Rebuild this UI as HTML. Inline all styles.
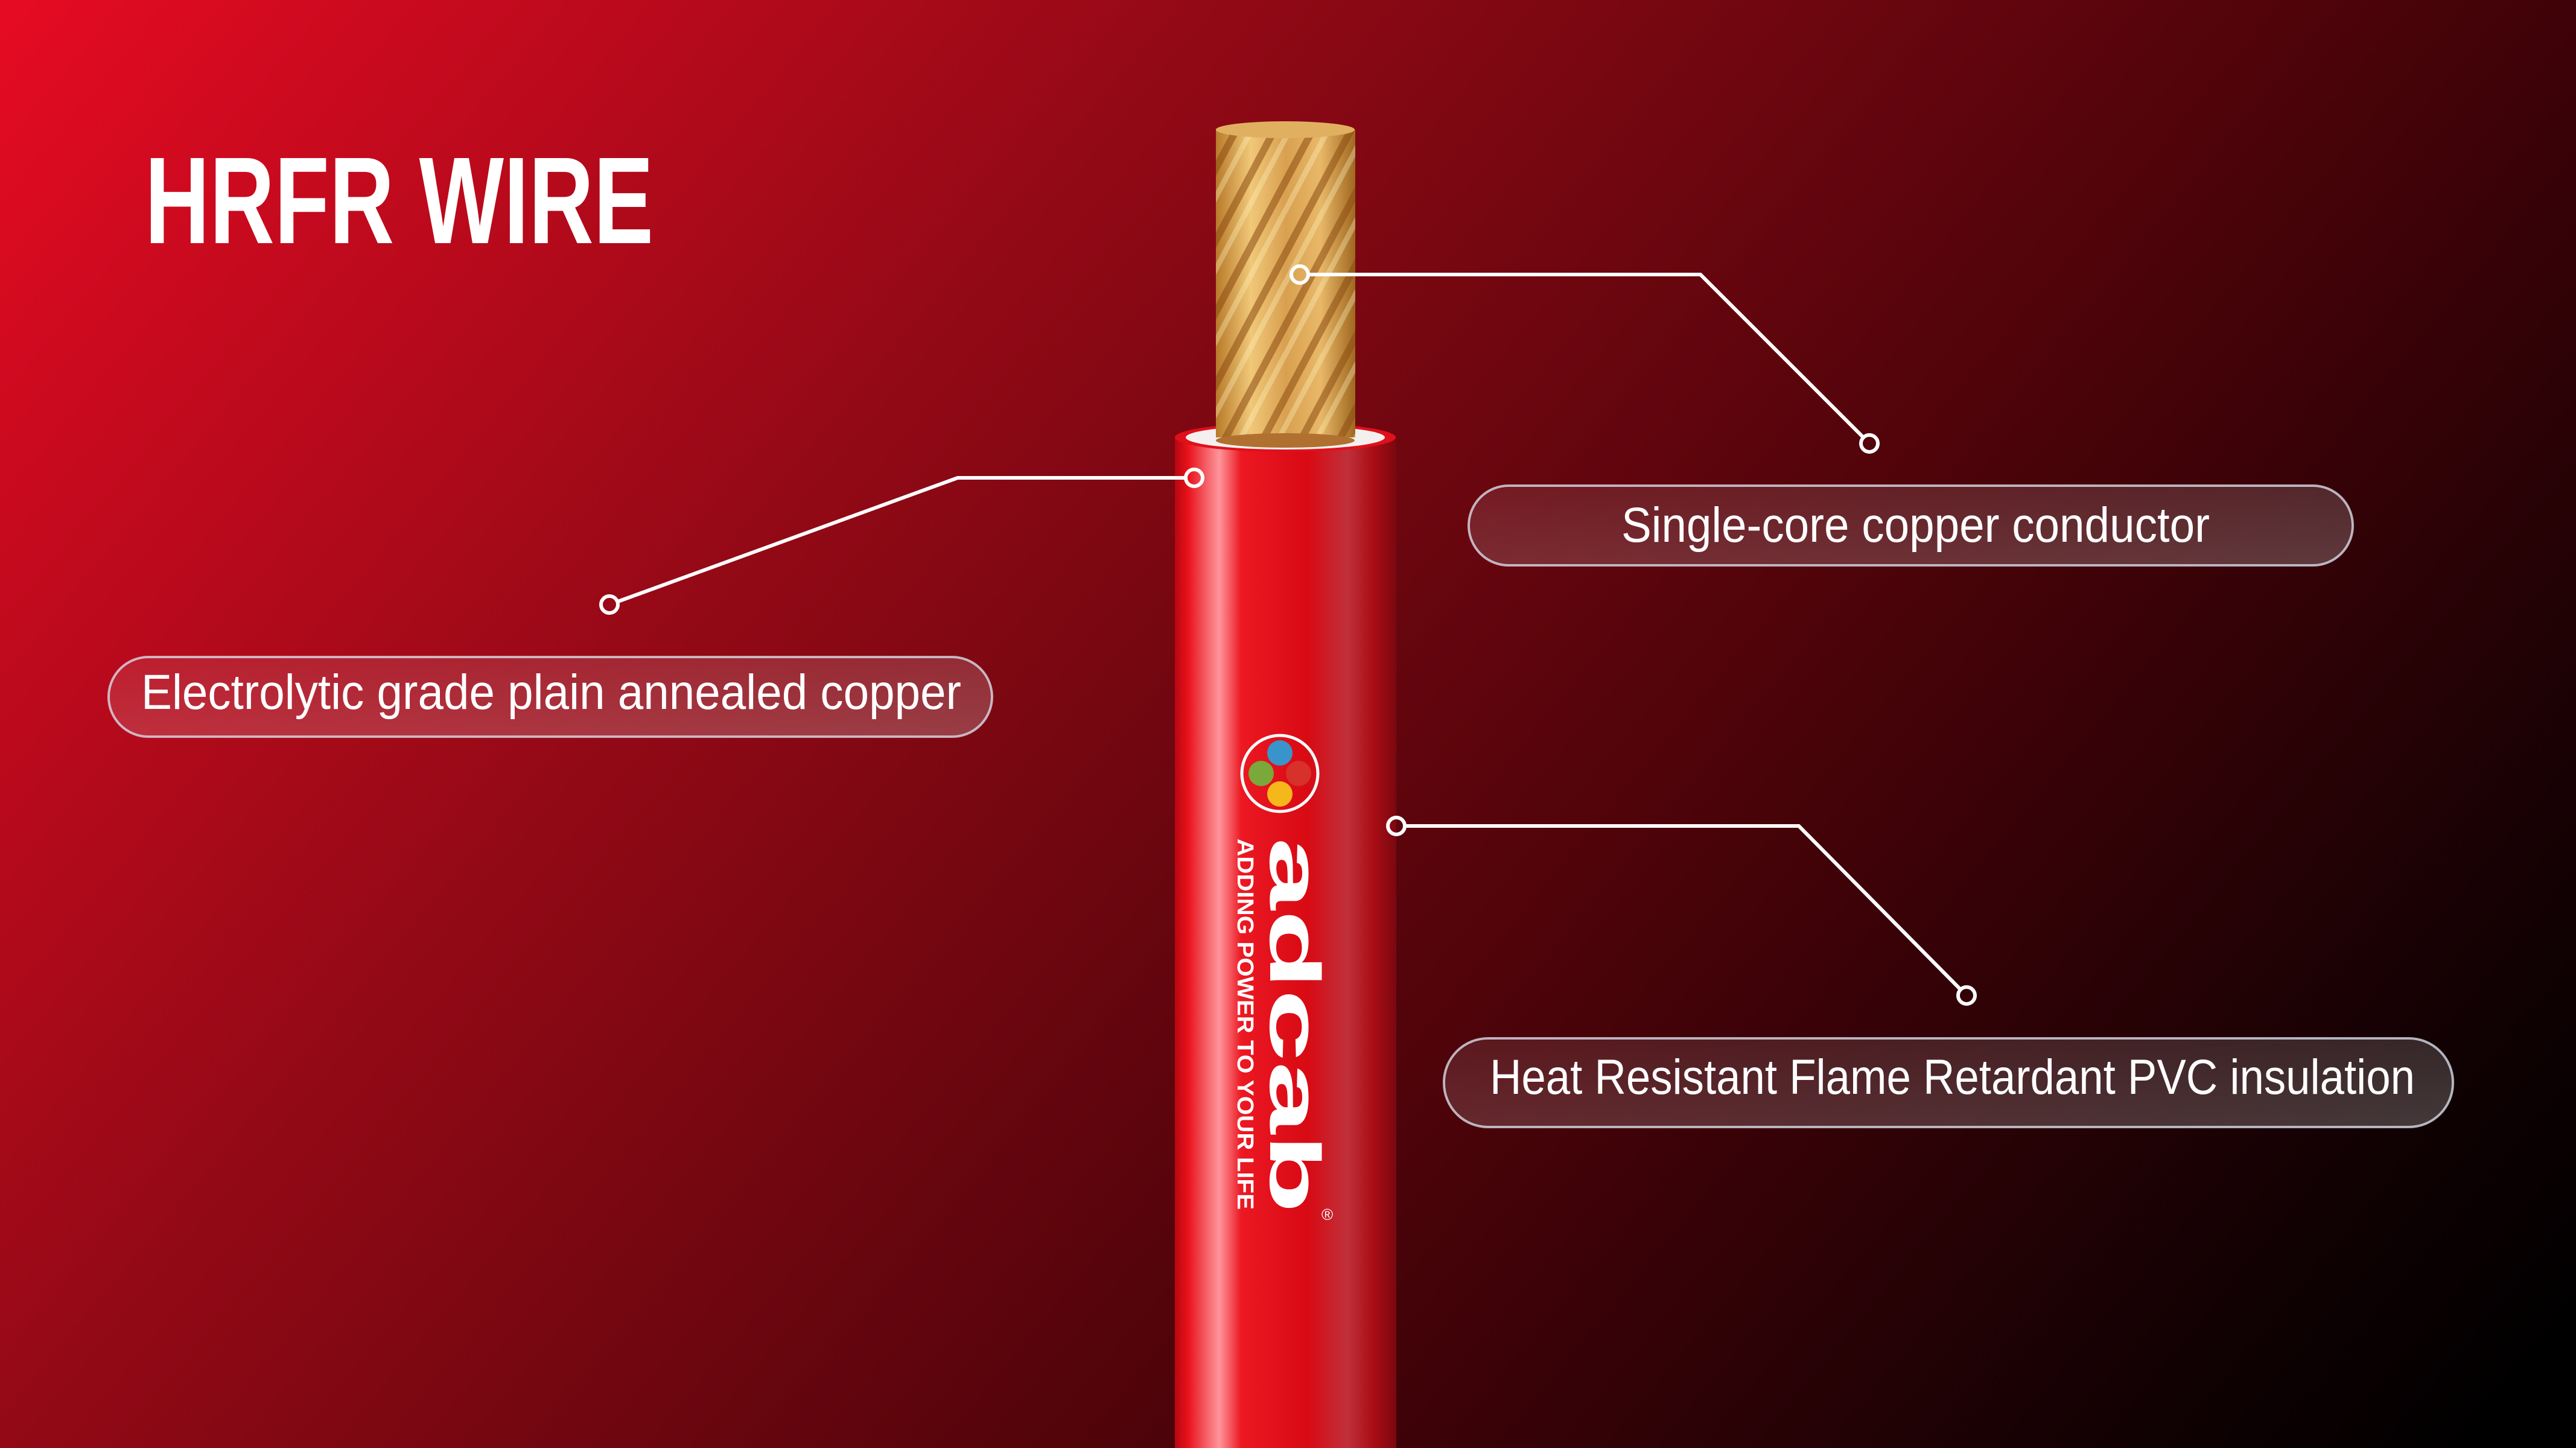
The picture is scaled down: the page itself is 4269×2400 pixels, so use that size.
<!DOCTYPE html>
<html><head><meta charset="utf-8"><style>
html,body{margin:0;padding:0;width:4269px;height:2400px;overflow:hidden;background:#000}
svg{display:block}
text{font-family:"Liberation Sans",sans-serif;fill:#fff}
</style></head><body>
<svg width="4269" height="2400" viewBox="0 0 4269 2400" xmlns="http://www.w3.org/2000/svg">
<defs>
<linearGradient id="bg" x1="0" y1="0" x2="3600" y2="3000" gradientUnits="userSpaceOnUse">
<stop offset="0" stop-color="#e60b23"/>
<stop offset="0.35" stop-color="#8e0915"/>
<stop offset="0.65" stop-color="#4a0309"/>
<stop offset="0.9" stop-color="#120103"/>
<stop offset="1" stop-color="#000"/>
</linearGradient>
<linearGradient id="wire" x1="0" x2="1" y1="0" y2="0">
<stop offset="0" stop-color="#b8060f"/>
<stop offset="0.06" stop-color="#e8121c"/>
<stop offset="0.2" stop-color="#ff959b"/>
<stop offset="0.3" stop-color="#ec1822"/>
<stop offset="0.6" stop-color="#d80a14"/>
<stop offset="0.78" stop-color="#c0303a"/>
<stop offset="0.9" stop-color="#a80c14"/>
<stop offset="1" stop-color="#7a0810"/>
</linearGradient>
<linearGradient id="cu" x1="0" x2="1" y1="0" y2="0">
<stop offset="0" stop-color="#b87a2a"/>
<stop offset="0.25" stop-color="#f0c878"/>
<stop offset="0.5" stop-color="#d8a050"/>
<stop offset="0.75" stop-color="#e8b868"/>
<stop offset="1" stop-color="#a06820"/>
</linearGradient>
<pattern id="strand" width="56" height="56" patternUnits="userSpaceOnUse" patternTransform="rotate(28)">
<rect width="56" height="56" fill="none"/>
<rect x="0" y="0" width="12" height="56" fill="#8a4a10" opacity="0.55"/>
<rect x="24" y="0" width="9" height="56" fill="#fff3c0" opacity="0.35"/>
</pattern>
<linearGradient id="pill" x1="0" x2="1" y1="0" y2="1">
<stop offset="0" stop-color="#ffffff" stop-opacity="0.08"/>
<stop offset="1" stop-color="#ffffff" stop-opacity="0.22"/>
</linearGradient>
</defs>
<rect width="4269" height="2400" fill="url(#bg)"/>

<text x="240" y="403" font-size="205" font-weight="bold" textLength="843" lengthAdjust="spacingAndGlyphs">HRFR WIRE</text>

<rect x="1947" y="722" width="367" height="1700" fill="url(#wire)"/>
<ellipse cx="2130" cy="725" rx="183" ry="24" fill="#e0101a"/>
<ellipse cx="2130" cy="725" rx="165" ry="20" fill="#f4f0f0"/>
<rect x="2015" y="215" width="231" height="510" fill="url(#cu)"/>
<rect x="2015" y="215" width="231" height="510" fill="url(#strand)"/>
<ellipse cx="2130" cy="730" rx="115" ry="12" fill="#b07030"/>
<ellipse cx="2130" cy="215" rx="115" ry="14" fill="#e0b060"/>

<circle cx="2121" cy="1282" r="63" fill="none" stroke="#fff" stroke-width="5"/>
<ellipse cx="2121" cy="1248" rx="21" ry="21" fill="#3a94cc"/>
<ellipse cx="2090" cy="1282" rx="21" ry="21" fill="#7aa83a"/>
<ellipse cx="2152" cy="1282" rx="21" ry="21" fill="#d8302a"/>
<ellipse cx="2121" cy="1316" rx="21" ry="21" fill="#f4b81a"/>
<text transform="translate(2105,1388) rotate(90)" x="0" y="0" font-size="118" font-weight="bold" textLength="623" lengthAdjust="spacingAndGlyphs">adcab</text>
<text transform="translate(2051,1390) rotate(90)" x="0" y="0" font-size="38" font-weight="bold" textLength="615" lengthAdjust="spacingAndGlyphs">ADDING POWER TO YOUR LIFE</text>
<text x="2190" y="2022" font-size="26">®</text>

<g fill="none" stroke="#fff" stroke-width="6">
<polyline points="1964,792 1587,792 1024,997"/>
<circle cx="1979" cy="792" r="14"/>
<circle cx="1010" cy="1002" r="14"/>
<polyline points="2169,455 2818,455 3088,725"/>
<circle cx="2154" cy="455" r="14"/>
<circle cx="3098" cy="735" r="14"/>
<polyline points="2329,1369 2981,1369 3249,1640"/>
<circle cx="2314" cy="1369" r="14"/>
<circle cx="3259" cy="1650" r="14"/>
</g>

<rect x="180" y="1089" width="1464" height="132" rx="66" fill="url(#pill)" stroke="#d8dce8" stroke-opacity="0.8" stroke-width="4"/>
<text x="234" y="1175" font-size="82" textLength="1359" lengthAdjust="spacingAndGlyphs">Electrolytic grade plain annealed copper</text>
<rect x="2434" y="805" width="1465" height="132" rx="66" fill="url(#pill)" stroke="#d8dce8" stroke-opacity="0.8" stroke-width="4"/>
<text x="2687" y="898" font-size="82" textLength="975" lengthAdjust="spacingAndGlyphs">Single-core copper conductor</text>
<rect x="2393" y="1721" width="1672" height="147" rx="73" fill="url(#pill)" stroke="#d8dce8" stroke-opacity="0.8" stroke-width="4"/>
<text x="2469" y="1813" font-size="82" textLength="1533" lengthAdjust="spacingAndGlyphs">Heat Resistant Flame Retardant PVC insulation</text>
</svg>
</body></html>
